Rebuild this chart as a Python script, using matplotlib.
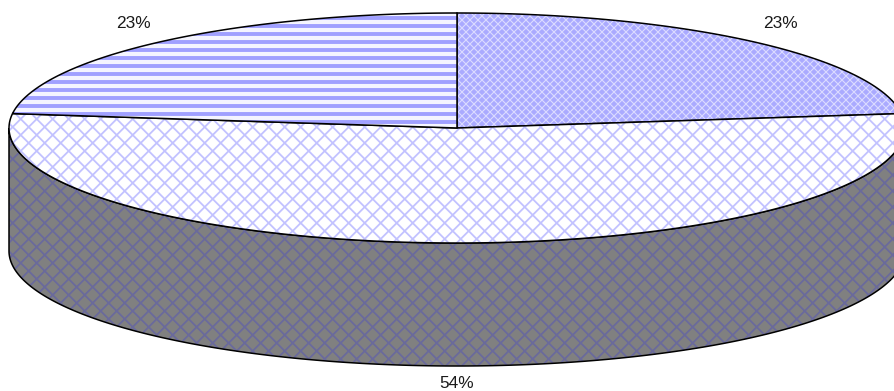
import numpy as np
import matplotlib
matplotlib.use('Agg')
import matplotlib.pyplot as plt
from matplotlib.collections import LineCollection
from matplotlib.patches import Polygon

shares = [23, 54, 23]
labels = ['23%', '54%', '23%']
label_xy = [(780, 24), (457, 383), (133, 24)]

# pie geometry, in pixels
cx, cy = 457, 128
a, b = 448, 115
depth = 123

INK = '#000000'


def arc(t0, t1, n=300):
    t = np.radians(np.linspace(t0, t1, n))
    return np.column_stack([cx + a * np.cos(t), cy - b * np.sin(t)])


def diag_lines(step, down=0, up=0):
    # both diagonal directions over the whole canvas
    segs = []
    for k in np.arange(-400, 1300, step):
        segs.append([(k + down, 0), (k + down + 391, 391)])
        segs.append([(k + up, 0), (k + up - 391, 391)])
    return segs


def stripes(step, y0=0):
    return [[(0, y), (895, y)] for y in np.arange(y0 % step, 391, step)]


def hatched(ax, pts, face, segs, color, lw, z):
    # LineCollection defaults to zorder 2, keep it under the outline
    patch = Polygon(pts, closed=True, facecolor=face, edgecolor='none', zorder=z)
    ax.add_patch(patch)
    lines = LineCollection(segs, colors=color, linewidths=lw, zorder=z + 0.1)
    lines.set_snap(False)
    ax.add_collection(lines)
    lines.set_clip_path(patch)
    outline = Polygon(pts, closed=True, fill=False, edgecolor=INK, linewidth=1.1, zorder=z + 0.2)
    outline.set_snap(False)
    ax.add_patch(outline)


fig = plt.figure(figsize=(8.95, 3.91), dpi=100)
ax = fig.add_axes([0, 0, 1, 1])
ax.set_xlim(0, 895)
ax.set_ylim(391, 0)
ax.axis('off')

# slice angles, clockwise from twelve o'clock
angles = 90 - np.cumsum([0] + shares) * 3.6
centre = np.array([[cx, cy]])

# side wall below the front rim
front = arc(180, 360)
wall = np.vstack([front, (front + [0, depth])[::-1]])
hatched(ax, wall, '#808080', diag_lines(16, 13.7, 11.7), '#6a6a9c', 1.3, 1)

hatched(ax, np.vstack([centre, arc(angles[0], angles[1])]), '#aaaaff',
        diag_lines(8, 2, 2), '#dcdcff', 0.8, 2)
hatched(ax, np.vstack([centre, arc(angles[1], angles[2])]), '#ffffff',
        diag_lines(16, 13.7, 11.7), '#c2c2ff', 1.3, 3)
hatched(ax, np.vstack([centre, arc(angles[2], angles[3])]), '#f4f4ff',
        stripes(8, 2), '#a0a0ff', 2.8, 4)

for txt, (x, y) in zip(labels, label_xy):
    ax.text(x, y, txt, ha='center', va='center', fontsize=12.4,
            family='Liberation Sans', color='#1a1a1a', zorder=5)

fig.savefig('out.png', dpi=100)
